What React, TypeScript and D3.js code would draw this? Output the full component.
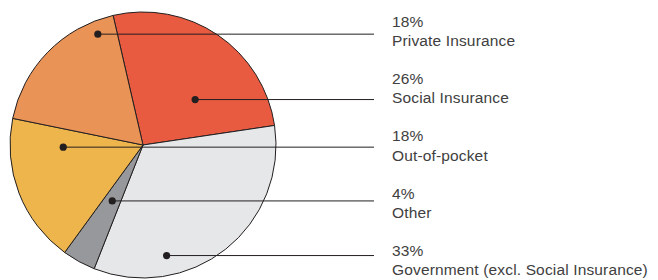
import React from 'react';
import * as d3 from 'd3';

// slice order follows the drawing, clockwise from the top
const categories = ['Social Insurance', 'Government (excl. Social Insurance)', 'Other', 'Out-of-pocket', 'Private Insurance'];
const shares = [26, 33, 4, 18, 18];
const sliceColors = ['#e95b40', '#e6e7e9', '#97989b', '#eeb54c', '#ea9357'];

// legend order, top to bottom
const legendOrder = ['Private Insurance', 'Social Insurance', 'Out-of-pocket', 'Other', 'Government (excl. Social Insurance)'];

// where the callout dot sits inside each slice: share of the slice's angle, share of the radius
const dotPlacement: Record<string, [number, number]> = {
  'Social Insurance': [0.655, 0.52],
  'Government (excl. Social Insurance)': [0.72, 0.85],
  Other: [0.5, 0.48],
  'Out-of-pocket': [0.8, 0.6],
  'Private Insurance': [0.86, 0.9],
};

const WIDTH = 658;
const HEIGHT = 280;
const CX = 143;
const CY = 145;
const R = 133;
const START = (-13 * Math.PI) / 180;
const LINE_END = 374;
const TEXT_X = 392;
const INK = '#231f20';
const TEXT = '#404040';

type Slice = { name: string; value: number; color: string };

export default function App() {
  const data: Slice[] = categories.map((name, i) => ({ name, value: shares[i], color: sliceColors[i] }));
  const pie = d3.pie<Slice>()
    .value((d) => d.value)
    .sort(null)
    .startAngle(START)
    .endAngle(START + 2 * Math.PI);
  const arcs = pie(data);
  const arc = d3.arc<d3.PieArcDatum<Slice>>().innerRadius(0).outerRadius(R);

  const dots = arcs.map((a) => {
    const [fa, fr] = dotPlacement[a.data.name];
    const angle = a.startAngle + (a.endAngle - a.startAngle) * fa;
    return {
      name: a.data.name,
      x: CX + Math.sin(angle) * R * fr,
      y: CY - Math.cos(angle) * R * fr,
    };
  });

  const rowY = d3.scalePoint().domain(legendOrder).range([26.7, 256]);

  return (
    <svg
      width={WIDTH}
      height={HEIGHT}
      style={{ position: 'absolute', left: 0, top: 0, background: '#fff' }}
      fontFamily="'Liberation Sans', Arial, sans-serif"
    >
      <g transform={`translate(${CX},${CY})`}>
        {arcs.map((a) => (
          <path key={a.data.name} d={arc(a) || ''} fill={a.data.color} stroke={INK} strokeWidth={1} strokeLinejoin="round" />
        ))}
      </g>
      {dots.map((d) => (
        <g key={d.name}>
          <line x1={d.x} y1={d.y} x2={LINE_END} y2={d.y} stroke={INK} strokeWidth={1} />
          <circle cx={d.x} cy={d.y} r={3.6} fill={INK} />
        </g>
      ))}
      {legendOrder.map((name) => {
        const i = categories.indexOf(name);
        const y = rowY(name) || 0;
        return (
          <g key={name} fill={TEXT} fontSize={15.5} letterSpacing={0.15}>
            <text x={TEXT_X} y={y}>{`${shares[i]}%`}</text>
            <text x={TEXT_X} y={y + 19.3}>{name}</text>
          </g>
        );
      })}
    </svg>
  );
}
